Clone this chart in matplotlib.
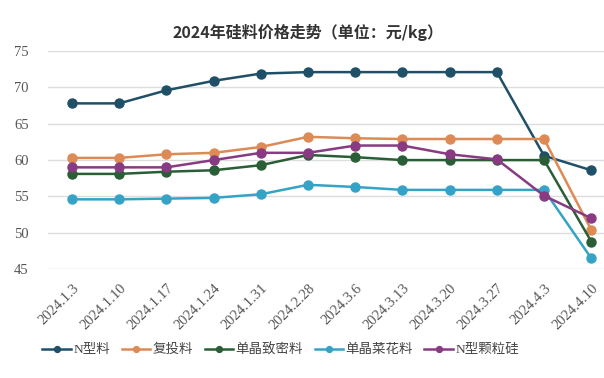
import matplotlib
matplotlib.use("Agg")
import matplotlib.pyplot as plt

dates = ["2024.1.3", "2024.1.10", "2024.1.17", "2024.1.24", "2024.1.31", "2024.2.28",
         "2024.3.6", "2024.3.13", "2024.3.20", "2024.3.27", "2024.4.3", "2024.4.10"]
n_type = [67.8, 67.8, 69.6, 70.9, 71.9, 72.1, 72.1, 72.1, 72.1, 72.1, 60.6, 58.6]
recharge = [60.3, 60.3, 60.8, 61.0, 61.8, 63.2, 63.0, 62.9, 62.9, 62.9, 62.9, 50.4]
dense = [58.1, 58.1, 58.4, 58.6, 59.3, 60.7, 60.4, 60.0, 60.0, 60.0, 60.0, 48.8]
cauliflower = [54.6, 54.6, 54.7, 54.8, 55.3, 56.6, 56.3, 55.9, 55.9, 55.9, 55.9, 46.5]
granular = [59.0, 59.0, 59.0, 60.0, 61.0, 61.0, 62.0, 62.0, 60.8, 60.1, 55.1, 52.0]

series = [
    ("N型料", n_type, "#1f5068"),
    ("复投料", recharge, "#dd8a55"),
    ("单晶致密料", dense, "#2a5e36"),
    ("单晶菜花料", cauliflower, "#34a3c6"),
    ("N型颗粒硅", granular, "#883a82"),
]
yticks = [45, 50, 55, 60, 65, 70, 75]

fam = ["Liberation Serif", "Noto Sans CJK SC"]
fig = plt.figure(figsize=(6.04, 3.78), dpi=100)
ax = fig.add_axes([0.0795, 0.288, 0.9205, 0.577])
x = list(range(len(dates)))
for name, vals, col in series:
    ax.plot(x, vals, color=col, lw=1.8, marker="o", ms=6.5, label=name, clip_on=False, zorder=3)

ax.set_xlim(-0.51, 11.27)
ax.set_ylim(45, 75)
ax.set_yticks(yticks)
ax.set_yticklabels([str(v) for v in yticks], family=fam, fontsize=10.5, color="#555555")
ax.set_xticks(x)
ax.set_xticklabels(dates, rotation=45, ha="right", va="top", rotation_mode="anchor",
                   family=fam, fontsize=10.5, color="#555555")
ax.tick_params(axis="both", length=0)
ax.tick_params(axis="y", pad=14)
ax.tick_params(axis="x", pad=9)
ax.grid(axis="y", color="#dddddd", lw=1)
ax.set_axisbelow(True)
for s in ax.spines.values():
    s.set_visible(False)

fig.text(0.51, 0.913, "2024年硅料价格走势（单位：元/kg）", ha="center", va="center",
         family=["Noto Sans CJK SC"], fontweight="bold", fontsize=11.5, color="#333333")

leg = fig.legend(loc="center", bbox_to_anchor=(0.465, 0.075), ncol=5, frameon=False,
                 prop={"family": fam, "size": 9.7}, handlelength=2.1, handletextpad=0.2,
                 columnspacing=0.85, markerscale=0.65)
for t in leg.get_texts():
    t.set_color("#444444")

fig.savefig("out.png", dpi=100)
